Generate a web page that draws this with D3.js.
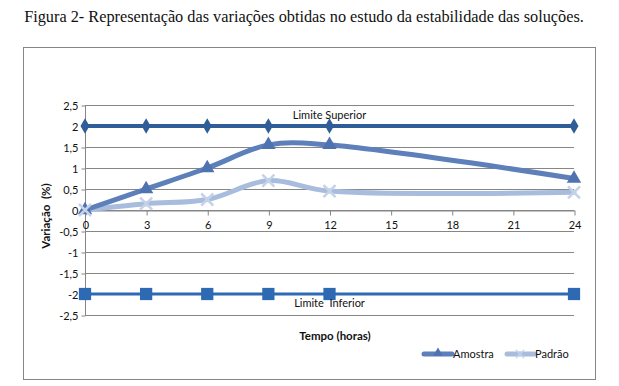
<!DOCTYPE html>
<html>
<head>
<meta charset="utf-8">
<script src="https://cdn.jsdelivr.net/npm/d3@7"></script>
<style>
  body { margin: 0; background: #fff; }
  text { font-family: Lato, "Open Sans", sans-serif; }
</style>
</head>
<body>
<div id="plot"></div>
<script>
// data
var hours = [0, 3, 6, 9, 12, 24];
var amostra = [0, 0.5, 1.0, 1.55, 1.55, 0.75];
var padrao = [0, 0.15, 0.25, 0.7, 0.45, 0.42];
var limSup = [2, 2, 2, 2, 2, 2];
var limInf = [-2, -2, -2, -2, -2, -2];
var xTicks = [0, 3, 6, 9, 12, 15, 18, 21, 24];
var yTicks = [2.5, 2, 1.5, 1, 0.5, 0, -0.5, -1, -1.5, -2, -2.5];
var yTickLabels = ["2,5", "2", "1,5", "1", "0,5", "0", "-0,5", "-1", "-1,5", "-2", "-2,5"];

var svgWidth = 619, svgHeight = 386;
var svg = d3.select("#plot").append("svg")
    .attr("width", svgWidth)
    .attr("height", svgHeight);

// title
svg.append("text")
    .attr("x", 304)
    .attr("y", 22)
    .attr("text-anchor", "middle")
    .style("font-family", "'Liberation Serif', serif")
    .style("font-size", "16.3px")
    .attr("fill", "#111")
    .text("Figura 2- Representação das variações obtidas no estudo da estabilidade das soluções.");

// chart frame
svg.append("rect")
    .attr("x", 23.5).attr("y", 47.5)
    .attr("width", 572).attr("height", 332)
    .attr("fill", "#fff")
    .attr("stroke", "#868686");

// scales
var xScale = d3.scaleLinear().domain([0, 24]).range([85, 574]);
var yScale = d3.scaleLinear().domain([-2.5, 2.5]).range([315, 105]);

// gridlines
svg.append("g").selectAll("line")
    .data(yTicks)
    .enter().append("line")
    .attr("x1", 85).attr("x2", 574)
    .attr("y1", d => Math.round(yScale(d)) + 0.5)
    .attr("y2", d => Math.round(yScale(d)) + 0.5)
    .attr("stroke", "#868686");

// y axis
var leftAxis = d3.axisLeft(yScale)
    .tickValues(yTicks)
    .tickSize(4)
    .tickFormat((d, i) => yTickLabels[i]);
var yAxisG = svg.append("g")
    .attr("transform", "translate(85.5,0.5)")
    .call(leftAxis);
yAxisG.select(".domain").attr("stroke", "#868686").attr("d", `M0,${yScale(2.5)}V${yScale(-2.5)}`);
yAxisG.selectAll(".tick line").attr("stroke", "#868686");
yAxisG.selectAll(".tick text")
    .attr("x", -7)
    .style("font-size", "11px")
    .style("font-family", "Lato, sans-serif")
    .attr("fill", "#111");

// x axis at zero
var bottomAxis = d3.axisBottom(xScale)
    .tickValues(xTicks)
    .tickSize(5)
    .tickSizeOuter(0);
var xAxisG = svg.append("g")
    .attr("transform", `translate(0.5, ${Math.round(yScale(0)) + 0.5})`)
    .call(bottomAxis);
xAxisG.select(".domain").attr("stroke", "#868686");
xAxisG.selectAll(".tick line").attr("stroke", "#868686");
xAxisG.selectAll(".tick text")
    .attr("y", 11)
    .style("font-size", "11px")
    .style("font-family", "Lato, sans-serif")
    .attr("fill", "#111");

// lines
var line = d3.line()
    .x((d, i) => xScale(hours[i]))
    .y(d => yScale(d));
var smooth = d3.line()
    .x((d, i) => xScale(hours[i]))
    .y(d => yScale(d))
    .curve(d3.curveCatmullRom.alpha(0.5));

var cSup = "#2f5d97", cInf = "#2e69b3", cAm = "#5d7fba", cPa = "#a8bcdd";

svg.append("path").attr("d", line(limSup))
    .attr("fill", "none").attr("stroke", cSup).attr("stroke-width", 4);
svg.append("path").attr("d", line(limInf))
    .attr("fill", "none").attr("stroke", cInf).attr("stroke-width", 3);
svg.append("path").attr("d", smooth(padrao))
    .attr("fill", "none").attr("stroke", cPa).attr("stroke-width", 5)
    .attr("stroke-linecap", "round");
svg.append("path").attr("d", smooth(amostra))
    .attr("fill", "none").attr("stroke", cAm).attr("stroke-width", 5)
    .attr("stroke-linecap", "round");

// markers
function drawMarkers(values, shape, size, color) {
    svg.append("g").selectAll("path")
        .data(values)
        .enter().append("path")
        .attr("transform", (d, i) => `translate(${xScale(hours[i])}, ${yScale(d)})`)
        .attr("d", d3.symbol().type(shape).size(size)())
        .attr("fill", color);
}
drawMarkers(limSup, d3.symbolDiamond, 70, cSup);
drawMarkers(limInf, d3.symbolSquare, 150, cInf);
drawMarkers(amostra, d3.symbolTriangle, 90, "#4f73b0");

// X markers for padrao
svg.append("g").selectAll("path")
    .data(padrao)
    .enter().append("path")
    .attr("transform", (d, i) => `translate(${xScale(hours[i])}, ${yScale(d)})`)
    .attr("d", "M-6,-6L6,6M-6,6L6,-6")
    .attr("stroke", "#c6d2e8").attr("stroke-width", 2.5).attr("fill", "none");

// data labels
svg.append("text")
    .attr("x", xScale(12)).attr("y", yScale(2) - 7)
    .attr("text-anchor", "middle")
    .style("font-size", "11px").attr("fill", "#111")
    .text("Limite Superior");
svg.append("text")
    .attr("x", xScale(12)).attr("y", yScale(-2) + 13)
    .attr("text-anchor", "middle")
    .style("font-size", "11px").attr("fill", "#111")
    .style("white-space", "pre")
    .attr("xml:space", "preserve")
    .text("Limite  Inferior");

// axis titles
svg.append("text")
    .attr("x", 335).attr("y", 340)
    .attr("text-anchor", "middle")
    .style("font-size", "11.5px").style("font-weight", "bold").attr("fill", "#111")
    .text("Tempo (horas)");
svg.append("text")
    .attr("transform", "rotate(-90)")
    .attr("x", -216).attr("y", 50)
    .attr("text-anchor", "middle")
    .style("font-size", "11.5px").style("font-weight", "bold").attr("fill", "#111")
    .style("white-space", "pre")
    .text("Variação  (%)");

// legend
var legend = svg.append("g");
legend.append("line").attr("x1", 424).attr("x2", 452).attr("y1", 354).attr("y2", 354)
    .attr("stroke", cAm).attr("stroke-width", 5).attr("stroke-linecap", "round");
legend.append("path").attr("transform", "translate(438,353)")
    .attr("d", d3.symbol().type(d3.symbolTriangle).size(40)()).attr("fill", "#4f73b0");
legend.append("text").attr("x", 453).attr("y", 358)
    .style("font-size", "11px").attr("fill", "#111").text("Amostra");
legend.append("line").attr("x1", 507).attr("x2", 534).attr("y1", 354).attr("y2", 354)
    .attr("stroke", cPa).attr("stroke-width", 5).attr("stroke-linecap", "round");
legend.append("path").attr("transform", "translate(520,354)")
    .attr("d", "M-4,-4L4,4M-4,4L4,-4")
    .attr("stroke", "#c6d2e8").attr("stroke-width", 1.5);
legend.append("text").attr("x", 535).attr("y", 358)
    .style("font-size", "11px").attr("fill", "#111").text("Padrão");
</script>
</body>
</html>
